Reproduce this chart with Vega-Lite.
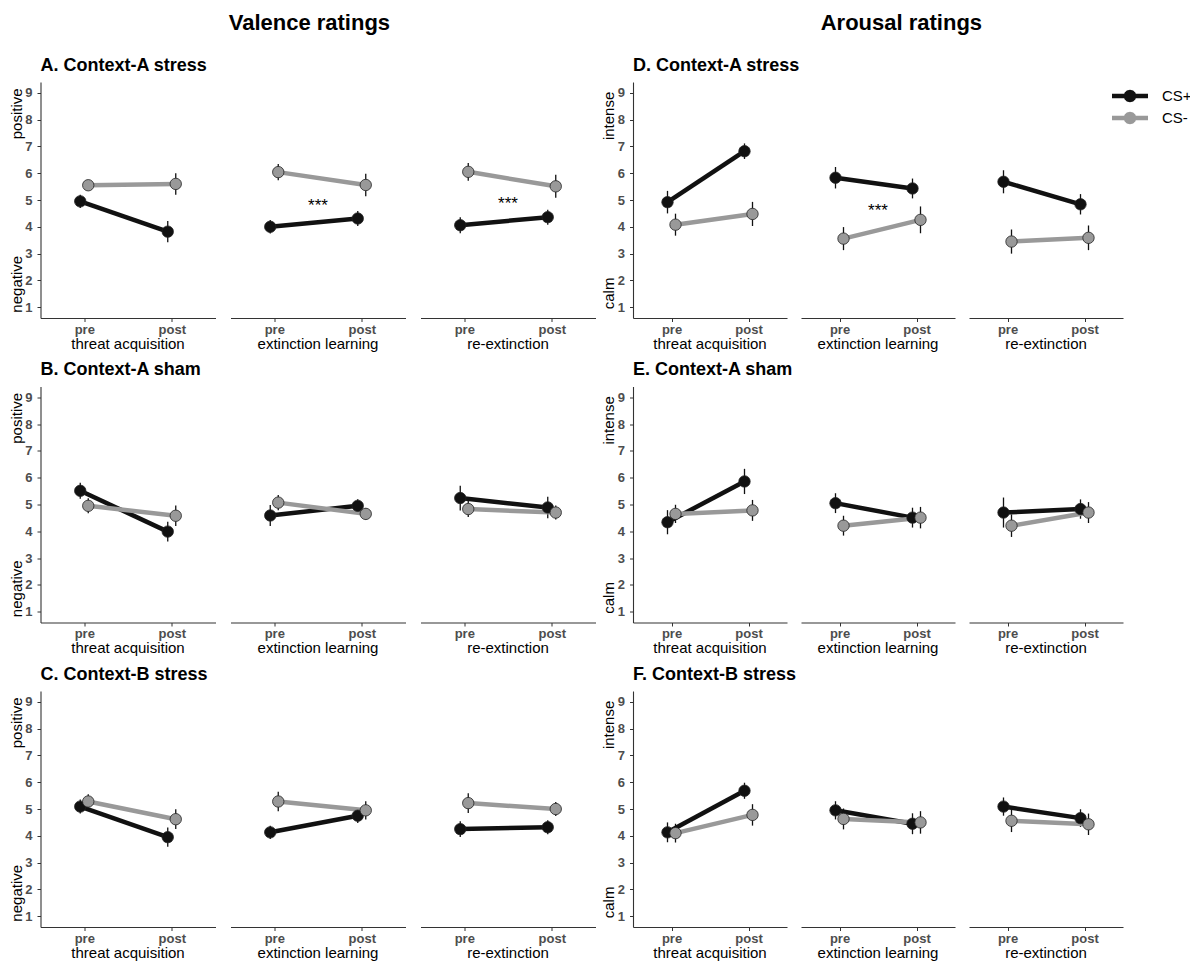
{
  "$schema": "https://vega.github.io/schema/vega-lite/v6.json",
  "padding": {"left": 8.5, "top": 12, "right": 0, "bottom": 0},
  "config": {
    "font": "Liberation Sans",
    "view": {"stroke": null},
    "axis": {
      "grid": false, "domainColor": "#333333", "domainWidth": 1.1,
      "tickColor": "#333333", "tickSize": 3.5, "tickWidth": 1,
      "labelFont": "Liberation Sans", "labelFontWeight": "bold", "labelColor": "#4d4d4d", "labelFontSize": 13,
      "titleFont": "Liberation Sans", "titleFontWeight": "normal", "titleColor": "#000000", "titleFontSize": 15
    },
    "axisX": {"labelAngle": 0, "labelPadding": 1.5},
    "axisY": {"labelPadding": 5, "titlePadding": 0.5},
    "header": {"labelFont": "Liberation Sans", "labelFontSize": 15, "labelColor": "#000000", "labelOrient": "bottom", "labelPadding": 0.5},
    "legend": {
      "orient": "none", "legendX": 1081, "legendY": 5.5, "title": null,
      "symbolType": "M-3,0L3,0M0.667,0L0.578,0.334L0.334,0.578L0,0.667L-0.334,0.578L-0.578,0.334L-0.667,0L-0.578,-0.334L-0.334,-0.578L0,-0.667L0.334,-0.578L0.578,-0.334Z",
      "symbolSize": 144, "symbolStrokeWidth": 4.5,
      "labelFont": "Liberation Sans", "labelFontSize": 15, "labelColor": "#000000", "labelOffset": 23.5, "rowPadding": -16
    }
  },
  "datasets": {
    "ratings": [
      {"p": "A", "ph": "threat acquisition", "t": "pre", "cs": "CS+", "m": 4.95, "lo": 4.70, "hi": 5.20},
      {"p": "A", "ph": "threat acquisition", "t": "pre", "cs": "CS-", "m": 5.55, "lo": 5.35, "hi": 5.75},
      {"p": "A", "ph": "threat acquisition", "t": "post", "cs": "CS+", "m": 3.82, "lo": 3.42, "hi": 4.22},
      {"p": "A", "ph": "threat acquisition", "t": "post", "cs": "CS-", "m": 5.60, "lo": 5.20, "hi": 6.00},
      {"p": "A", "ph": "extinction learning", "t": "pre", "cs": "CS+", "m": 4.00, "lo": 3.75, "hi": 4.25},
      {"p": "A", "ph": "extinction learning", "t": "pre", "cs": "CS-", "m": 6.04, "lo": 5.74, "hi": 6.34},
      {"p": "A", "ph": "extinction learning", "t": "post", "cs": "CS+", "m": 4.31, "lo": 4.03, "hi": 4.59},
      {"p": "A", "ph": "extinction learning", "t": "post", "cs": "CS-", "m": 5.56, "lo": 5.14, "hi": 5.98},
      {"p": "A", "ph": "re-extinction", "t": "pre", "cs": "CS+", "m": 4.06, "lo": 3.76, "hi": 4.36},
      {"p": "A", "ph": "re-extinction", "t": "pre", "cs": "CS-", "m": 6.05, "lo": 5.72, "hi": 6.38},
      {"p": "A", "ph": "re-extinction", "t": "post", "cs": "CS+", "m": 4.36, "lo": 4.08, "hi": 4.64},
      {"p": "A", "ph": "re-extinction", "t": "post", "cs": "CS-", "m": 5.51, "lo": 5.08, "hi": 5.94},
      {"p": "A", "ph": "extinction learning", "t": "mid", "star": "***", "sy": 4.88},
      {"p": "A", "ph": "re-extinction", "t": "mid", "star": "***", "sy": 4.95},

      {"p": "B", "ph": "threat acquisition", "t": "pre", "cs": "CS+", "m": 5.51, "lo": 5.21, "hi": 5.81},
      {"p": "B", "ph": "threat acquisition", "t": "pre", "cs": "CS-", "m": 4.95, "lo": 4.67, "hi": 5.23},
      {"p": "B", "ph": "threat acquisition", "t": "post", "cs": "CS+", "m": 3.99, "lo": 3.62, "hi": 4.36},
      {"p": "B", "ph": "threat acquisition", "t": "post", "cs": "CS-", "m": 4.58, "lo": 4.20, "hi": 4.96},
      {"p": "B", "ph": "extinction learning", "t": "pre", "cs": "CS+", "m": 4.59, "lo": 4.20, "hi": 4.98},
      {"p": "B", "ph": "extinction learning", "t": "pre", "cs": "CS-", "m": 5.07, "lo": 4.79, "hi": 5.35},
      {"p": "B", "ph": "extinction learning", "t": "post", "cs": "CS+", "m": 4.95, "lo": 4.70, "hi": 5.20},
      {"p": "B", "ph": "extinction learning", "t": "post", "cs": "CS-", "m": 4.65, "lo": 4.43, "hi": 4.87},
      {"p": "B", "ph": "re-extinction", "t": "pre", "cs": "CS+", "m": 5.24, "lo": 4.78, "hi": 5.70},
      {"p": "B", "ph": "re-extinction", "t": "pre", "cs": "CS-", "m": 4.83, "lo": 4.53, "hi": 5.13},
      {"p": "B", "ph": "re-extinction", "t": "post", "cs": "CS+", "m": 4.89, "lo": 4.49, "hi": 5.29},
      {"p": "B", "ph": "re-extinction", "t": "post", "cs": "CS-", "m": 4.70, "lo": 4.44, "hi": 4.96},

      {"p": "C", "ph": "threat acquisition", "t": "pre", "cs": "CS+", "m": 5.09, "lo": 4.83, "hi": 5.35},
      {"p": "C", "ph": "threat acquisition", "t": "pre", "cs": "CS-", "m": 5.28, "lo": 5.01, "hi": 5.55},
      {"p": "C", "ph": "threat acquisition", "t": "post", "cs": "CS+", "m": 3.95, "lo": 3.59, "hi": 4.31},
      {"p": "C", "ph": "threat acquisition", "t": "post", "cs": "CS-", "m": 4.62, "lo": 4.25, "hi": 4.99},
      {"p": "C", "ph": "extinction learning", "t": "pre", "cs": "CS+", "m": 4.13, "lo": 3.88, "hi": 4.38},
      {"p": "C", "ph": "extinction learning", "t": "pre", "cs": "CS-", "m": 5.28, "lo": 4.92, "hi": 5.64},
      {"p": "C", "ph": "extinction learning", "t": "post", "cs": "CS+", "m": 4.75, "lo": 4.48, "hi": 5.02},
      {"p": "C", "ph": "extinction learning", "t": "post", "cs": "CS-", "m": 4.95, "lo": 4.61, "hi": 5.29},
      {"p": "C", "ph": "re-extinction", "t": "pre", "cs": "CS+", "m": 4.25, "lo": 3.96, "hi": 4.54},
      {"p": "C", "ph": "re-extinction", "t": "pre", "cs": "CS-", "m": 5.22, "lo": 4.85, "hi": 5.59},
      {"p": "C", "ph": "re-extinction", "t": "post", "cs": "CS+", "m": 4.32, "lo": 4.06, "hi": 4.58},
      {"p": "C", "ph": "re-extinction", "t": "post", "cs": "CS-", "m": 5.00, "lo": 4.74, "hi": 5.26},

      {"p": "D", "ph": "threat acquisition", "t": "pre", "cs": "CS+", "m": 4.92, "lo": 4.50, "hi": 5.34},
      {"p": "D", "ph": "threat acquisition", "t": "pre", "cs": "CS-", "m": 4.08, "lo": 3.67, "hi": 4.49},
      {"p": "D", "ph": "threat acquisition", "t": "post", "cs": "CS+", "m": 6.82, "lo": 6.53, "hi": 7.11},
      {"p": "D", "ph": "threat acquisition", "t": "post", "cs": "CS-", "m": 4.48, "lo": 4.03, "hi": 4.93},
      {"p": "D", "ph": "extinction learning", "t": "pre", "cs": "CS+", "m": 5.83, "lo": 5.43, "hi": 6.23},
      {"p": "D", "ph": "extinction learning", "t": "pre", "cs": "CS-", "m": 3.56, "lo": 3.13, "hi": 3.99},
      {"p": "D", "ph": "extinction learning", "t": "post", "cs": "CS+", "m": 5.43, "lo": 5.06, "hi": 5.80},
      {"p": "D", "ph": "extinction learning", "t": "post", "cs": "CS-", "m": 4.26, "lo": 3.76, "hi": 4.76},
      {"p": "D", "ph": "re-extinction", "t": "pre", "cs": "CS+", "m": 5.68, "lo": 5.25, "hi": 6.11},
      {"p": "D", "ph": "re-extinction", "t": "pre", "cs": "CS-", "m": 3.45, "lo": 3.00, "hi": 3.90},
      {"p": "D", "ph": "re-extinction", "t": "post", "cs": "CS+", "m": 4.84, "lo": 4.46, "hi": 5.22},
      {"p": "D", "ph": "re-extinction", "t": "post", "cs": "CS-", "m": 3.59, "lo": 3.13, "hi": 4.05},
      {"p": "D", "ph": "extinction learning", "t": "mid", "star": "***", "sy": 4.71},

      {"p": "E", "ph": "threat acquisition", "t": "pre", "cs": "CS+", "m": 4.34, "lo": 3.89, "hi": 4.79},
      {"p": "E", "ph": "threat acquisition", "t": "pre", "cs": "CS-", "m": 4.65, "lo": 4.31, "hi": 4.99},
      {"p": "E", "ph": "threat acquisition", "t": "post", "cs": "CS+", "m": 5.86, "lo": 5.39, "hi": 6.33},
      {"p": "E", "ph": "threat acquisition", "t": "post", "cs": "CS-", "m": 4.78, "lo": 4.39, "hi": 5.17},
      {"p": "E", "ph": "extinction learning", "t": "pre", "cs": "CS+", "m": 5.05, "lo": 4.68, "hi": 5.42},
      {"p": "E", "ph": "extinction learning", "t": "pre", "cs": "CS-", "m": 4.21, "lo": 3.84, "hi": 4.58},
      {"p": "E", "ph": "extinction learning", "t": "post", "cs": "CS+", "m": 4.51, "lo": 4.14, "hi": 4.88},
      {"p": "E", "ph": "extinction learning", "t": "post", "cs": "CS-", "m": 4.51, "lo": 4.11, "hi": 4.91},
      {"p": "E", "ph": "re-extinction", "t": "pre", "cs": "CS+", "m": 4.70, "lo": 4.14, "hi": 5.26},
      {"p": "E", "ph": "re-extinction", "t": "pre", "cs": "CS-", "m": 4.21, "lo": 3.79, "hi": 4.63},
      {"p": "E", "ph": "re-extinction", "t": "post", "cs": "CS+", "m": 4.83, "lo": 4.47, "hi": 5.19},
      {"p": "E", "ph": "re-extinction", "t": "post", "cs": "CS-", "m": 4.70, "lo": 4.31, "hi": 5.09},

      {"p": "F", "ph": "threat acquisition", "t": "pre", "cs": "CS+", "m": 4.13, "lo": 3.76, "hi": 4.50},
      {"p": "F", "ph": "threat acquisition", "t": "pre", "cs": "CS-", "m": 4.10, "lo": 3.75, "hi": 4.45},
      {"p": "F", "ph": "threat acquisition", "t": "post", "cs": "CS+", "m": 5.68, "lo": 5.38, "hi": 5.98},
      {"p": "F", "ph": "threat acquisition", "t": "post", "cs": "CS-", "m": 4.78, "lo": 4.38, "hi": 5.18},
      {"p": "F", "ph": "extinction learning", "t": "pre", "cs": "CS+", "m": 4.95, "lo": 4.61, "hi": 5.29},
      {"p": "F", "ph": "extinction learning", "t": "pre", "cs": "CS-", "m": 4.63, "lo": 4.24, "hi": 5.02},
      {"p": "F", "ph": "extinction learning", "t": "post", "cs": "CS+", "m": 4.45, "lo": 4.06, "hi": 4.84},
      {"p": "F", "ph": "extinction learning", "t": "post", "cs": "CS-", "m": 4.50, "lo": 4.08, "hi": 4.92},
      {"p": "F", "ph": "re-extinction", "t": "pre", "cs": "CS+", "m": 5.09, "lo": 4.75, "hi": 5.43},
      {"p": "F", "ph": "re-extinction", "t": "pre", "cs": "CS-", "m": 4.56, "lo": 4.14, "hi": 4.98},
      {"p": "F", "ph": "re-extinction", "t": "post", "cs": "CS+", "m": 4.66, "lo": 4.33, "hi": 4.99},
      {"p": "F", "ph": "re-extinction", "t": "post", "cs": "CS-", "m": 4.43, "lo": 4.03, "hi": 4.83}
    ]
  },
  "spacing": 5.5,
  "hconcat": [
    {
      "title": {"text": "Valence ratings", "fontSize": 22, "fontWeight": "bold", "anchor": "middle", "color": "#000000", "offset": 21.5, "dx": 7},
      "spacing": 8.5,
      "vconcat": [
        {
          "title": {"text": "A. Context-A stress", "fontSize": 18, "fontWeight": "bold", "anchor": "start", "frame": "group", "color": "#000000", "offset": 7.5},
          "data": {"name": "ratings"},
          "transform": [{"filter": "datum.p === 'A'"}],
          "facet": {"column": {"field": "ph", "type": "nominal", "sort": ["threat acquisition", "extinction learning", "re-extinction"], "header": {"title": null}}},
          "spacing": 15,
          "spec": {
            "width": 175, "height": 236,
            "encoding": {"x": {"field": "t", "type": "nominal", "scale": {"type": "point", "domain": ["pre", "mid", "post"], "padding": 1.2}, "axis": {"values": ["pre", "post"], "title": null}}},
            "layer": [
              {"transform": [{"filter": "isValid(datum.m)"}], "mark": {"type": "rule", "strokeWidth": 1.3, "color": "#111111"},
               "encoding": {"xOffset": {"field": "cs", "type": "nominal", "scale": {"type": "point", "domain": ["CS+", "CS-"], "range": [-4, 4], "padding": 0}},
                 "y": {"field": "lo", "type": "quantitative", "scale": {"domain": [0.6, 9.4], "nice": false, "zero": false}, "axis": {"title": "negative\u00a0\u00a0\u00a0\u00a0\u00a0\u00a0\u00a0\u00a0\u00a0\u00a0\u00a0\u00a0\u00a0\u00a0\u00a0\u00a0\u00a0\u00a0\u00a0\u00a0\u00a0\u00a0\u00a0\u00a0\u00a0\u00a0\u00a0\u00a0positive", "values": [1, 2, 3, 4, 5, 6, 7, 8, 9]}},
                 "y2": {"field": "hi"}}},
              {"transform": [{"filter": "isValid(datum.m)"}], "mark": {"type": "line", "strokeWidth": 4.5},
               "encoding": {"xOffset": {"field": "cs", "type": "nominal", "scale": {"type": "point", "domain": ["CS+", "CS-"], "range": [-4, 4], "padding": 0}},
                 "y": {"field": "m", "type": "quantitative", "scale": {"domain": [0.6, 9.4], "nice": false, "zero": false}, "axis": {"title": "negative\u00a0\u00a0\u00a0\u00a0\u00a0\u00a0\u00a0\u00a0\u00a0\u00a0\u00a0\u00a0\u00a0\u00a0\u00a0\u00a0\u00a0\u00a0\u00a0\u00a0\u00a0\u00a0\u00a0\u00a0\u00a0\u00a0\u00a0\u00a0positive", "values": [1, 2, 3, 4, 5, 6, 7, 8, 9]}},
                 "stroke": {"field": "cs", "type": "nominal", "scale": {"domain": ["CS+", "CS-"], "range": ["#111111", "#999999"]}, "legend": {"encode": {"symbols": {"update": {"fill": {"scale": "stroke", "field": "value"}}}}}}}},
              {"transform": [{"filter": "isValid(datum.m)"}], "mark": {"type": "point", "filled": true, "size": 130, "opacity": 1, "stroke": "#222222", "strokeWidth": 0.8},
               "encoding": {"xOffset": {"field": "cs", "type": "nominal", "scale": {"type": "point", "domain": ["CS+", "CS-"], "range": [-4, 4], "padding": 0}},
                 "y": {"field": "m", "type": "quantitative", "scale": {"domain": [0.6, 9.4], "nice": false, "zero": false}, "axis": {"title": "negative\u00a0\u00a0\u00a0\u00a0\u00a0\u00a0\u00a0\u00a0\u00a0\u00a0\u00a0\u00a0\u00a0\u00a0\u00a0\u00a0\u00a0\u00a0\u00a0\u00a0\u00a0\u00a0\u00a0\u00a0\u00a0\u00a0\u00a0\u00a0positive", "values": [1, 2, 3, 4, 5, 6, 7, 8, 9]}},
                 "fill": {"field": "cs", "type": "nominal", "scale": {"domain": ["CS+", "CS-"], "range": ["#111111", "#999999"]}, "legend": null}}},
              {"transform": [{"filter": "isValid(datum.sy)"}], "mark": {"type": "text", "fontSize": 17, "baseline": "middle", "dy": 3, "color": "#000000"},
               "encoding": {"y": {"field": "sy", "type": "quantitative", "scale": {"domain": [0.6, 9.4], "nice": false, "zero": false}, "axis": {"title": "negative\u00a0\u00a0\u00a0\u00a0\u00a0\u00a0\u00a0\u00a0\u00a0\u00a0\u00a0\u00a0\u00a0\u00a0\u00a0\u00a0\u00a0\u00a0\u00a0\u00a0\u00a0\u00a0\u00a0\u00a0\u00a0\u00a0\u00a0\u00a0positive", "values": [1, 2, 3, 4, 5, 6, 7, 8, 9]}},
                 "text": {"field": "star"}}}
            ]
          }
        },
        {
          "title": {"text": "B. Context-A sham", "fontSize": 18, "fontWeight": "bold", "anchor": "start", "frame": "group", "color": "#000000", "offset": 7.5},
          "data": {"name": "ratings"},
          "transform": [{"filter": "datum.p === 'B'"}],
          "facet": {"column": {"field": "ph", "type": "nominal", "sort": ["threat acquisition", "extinction learning", "re-extinction"], "header": {"title": null}}},
          "spacing": 15,
          "spec": {
            "width": 175, "height": 236,
            "encoding": {"x": {"field": "t", "type": "nominal", "scale": {"type": "point", "domain": ["pre", "mid", "post"], "padding": 1.2}, "axis": {"values": ["pre", "post"], "title": null}}},
            "layer": [
              {"transform": [{"filter": "isValid(datum.m)"}], "mark": {"type": "rule", "strokeWidth": 1.3, "color": "#111111"},
               "encoding": {"xOffset": {"field": "cs", "type": "nominal", "scale": {"type": "point", "domain": ["CS+", "CS-"], "range": [-4, 4], "padding": 0}},
                 "y": {"field": "lo", "type": "quantitative", "scale": {"domain": [0.6, 9.4], "nice": false, "zero": false}, "axis": {"title": "negative\u00a0\u00a0\u00a0\u00a0\u00a0\u00a0\u00a0\u00a0\u00a0\u00a0\u00a0\u00a0\u00a0\u00a0\u00a0\u00a0\u00a0\u00a0\u00a0\u00a0\u00a0\u00a0\u00a0\u00a0\u00a0\u00a0\u00a0\u00a0positive", "values": [1, 2, 3, 4, 5, 6, 7, 8, 9]}},
                 "y2": {"field": "hi"}}},
              {"transform": [{"filter": "isValid(datum.m)"}], "mark": {"type": "line", "strokeWidth": 4.5},
               "encoding": {"xOffset": {"field": "cs", "type": "nominal", "scale": {"type": "point", "domain": ["CS+", "CS-"], "range": [-4, 4], "padding": 0}},
                 "y": {"field": "m", "type": "quantitative", "scale": {"domain": [0.6, 9.4], "nice": false, "zero": false}, "axis": {"title": "negative\u00a0\u00a0\u00a0\u00a0\u00a0\u00a0\u00a0\u00a0\u00a0\u00a0\u00a0\u00a0\u00a0\u00a0\u00a0\u00a0\u00a0\u00a0\u00a0\u00a0\u00a0\u00a0\u00a0\u00a0\u00a0\u00a0\u00a0\u00a0positive", "values": [1, 2, 3, 4, 5, 6, 7, 8, 9]}},
                 "stroke": {"field": "cs", "type": "nominal", "scale": {"domain": ["CS+", "CS-"], "range": ["#111111", "#999999"]}, "legend": {"encode": {"symbols": {"update": {"fill": {"scale": "stroke", "field": "value"}}}}}}}},
              {"transform": [{"filter": "isValid(datum.m)"}], "mark": {"type": "point", "filled": true, "size": 130, "opacity": 1, "stroke": "#222222", "strokeWidth": 0.8},
               "encoding": {"xOffset": {"field": "cs", "type": "nominal", "scale": {"type": "point", "domain": ["CS+", "CS-"], "range": [-4, 4], "padding": 0}},
                 "y": {"field": "m", "type": "quantitative", "scale": {"domain": [0.6, 9.4], "nice": false, "zero": false}, "axis": {"title": "negative\u00a0\u00a0\u00a0\u00a0\u00a0\u00a0\u00a0\u00a0\u00a0\u00a0\u00a0\u00a0\u00a0\u00a0\u00a0\u00a0\u00a0\u00a0\u00a0\u00a0\u00a0\u00a0\u00a0\u00a0\u00a0\u00a0\u00a0\u00a0positive", "values": [1, 2, 3, 4, 5, 6, 7, 8, 9]}},
                 "fill": {"field": "cs", "type": "nominal", "scale": {"domain": ["CS+", "CS-"], "range": ["#111111", "#999999"]}, "legend": null}}}
            ]
          }
        },
        {
          "title": {"text": "C. Context-B stress", "fontSize": 18, "fontWeight": "bold", "anchor": "start", "frame": "group", "color": "#000000", "offset": 7.5},
          "data": {"name": "ratings"},
          "transform": [{"filter": "datum.p === 'C'"}],
          "facet": {"column": {"field": "ph", "type": "nominal", "sort": ["threat acquisition", "extinction learning", "re-extinction"], "header": {"title": null}}},
          "spacing": 15,
          "spec": {
            "width": 175, "height": 236,
            "encoding": {"x": {"field": "t", "type": "nominal", "scale": {"type": "point", "domain": ["pre", "mid", "post"], "padding": 1.2}, "axis": {"values": ["pre", "post"], "title": null}}},
            "layer": [
              {"transform": [{"filter": "isValid(datum.m)"}], "mark": {"type": "rule", "strokeWidth": 1.3, "color": "#111111"},
               "encoding": {"xOffset": {"field": "cs", "type": "nominal", "scale": {"type": "point", "domain": ["CS+", "CS-"], "range": [-4, 4], "padding": 0}},
                 "y": {"field": "lo", "type": "quantitative", "scale": {"domain": [0.6, 9.4], "nice": false, "zero": false}, "axis": {"title": "negative\u00a0\u00a0\u00a0\u00a0\u00a0\u00a0\u00a0\u00a0\u00a0\u00a0\u00a0\u00a0\u00a0\u00a0\u00a0\u00a0\u00a0\u00a0\u00a0\u00a0\u00a0\u00a0\u00a0\u00a0\u00a0\u00a0\u00a0\u00a0positive", "values": [1, 2, 3, 4, 5, 6, 7, 8, 9]}},
                 "y2": {"field": "hi"}}},
              {"transform": [{"filter": "isValid(datum.m)"}], "mark": {"type": "line", "strokeWidth": 4.5},
               "encoding": {"xOffset": {"field": "cs", "type": "nominal", "scale": {"type": "point", "domain": ["CS+", "CS-"], "range": [-4, 4], "padding": 0}},
                 "y": {"field": "m", "type": "quantitative", "scale": {"domain": [0.6, 9.4], "nice": false, "zero": false}, "axis": {"title": "negative\u00a0\u00a0\u00a0\u00a0\u00a0\u00a0\u00a0\u00a0\u00a0\u00a0\u00a0\u00a0\u00a0\u00a0\u00a0\u00a0\u00a0\u00a0\u00a0\u00a0\u00a0\u00a0\u00a0\u00a0\u00a0\u00a0\u00a0\u00a0positive", "values": [1, 2, 3, 4, 5, 6, 7, 8, 9]}},
                 "stroke": {"field": "cs", "type": "nominal", "scale": {"domain": ["CS+", "CS-"], "range": ["#111111", "#999999"]}, "legend": {"encode": {"symbols": {"update": {"fill": {"scale": "stroke", "field": "value"}}}}}}}},
              {"transform": [{"filter": "isValid(datum.m)"}], "mark": {"type": "point", "filled": true, "size": 130, "opacity": 1, "stroke": "#222222", "strokeWidth": 0.8},
               "encoding": {"xOffset": {"field": "cs", "type": "nominal", "scale": {"type": "point", "domain": ["CS+", "CS-"], "range": [-4, 4], "padding": 0}},
                 "y": {"field": "m", "type": "quantitative", "scale": {"domain": [0.6, 9.4], "nice": false, "zero": false}, "axis": {"title": "negative\u00a0\u00a0\u00a0\u00a0\u00a0\u00a0\u00a0\u00a0\u00a0\u00a0\u00a0\u00a0\u00a0\u00a0\u00a0\u00a0\u00a0\u00a0\u00a0\u00a0\u00a0\u00a0\u00a0\u00a0\u00a0\u00a0\u00a0\u00a0positive", "values": [1, 2, 3, 4, 5, 6, 7, 8, 9]}},
                 "fill": {"field": "cs", "type": "nominal", "scale": {"domain": ["CS+", "CS-"], "range": ["#111111", "#999999"]}, "legend": null}}}
            ]
          }
        }
      ]
    },
    {
      "title": {"text": "Arousal ratings", "fontSize": 22, "fontWeight": "bold", "anchor": "middle", "color": "#000000", "offset": 21.5, "dx": 39},
      "spacing": 8.5,
      "vconcat": [
        {
          "title": {"text": "D. Context-A stress", "fontSize": 18, "fontWeight": "bold", "anchor": "start", "frame": "group", "color": "#000000", "offset": 7.5},
          "data": {"name": "ratings"},
          "transform": [{"filter": "datum.p === 'D'"}],
          "facet": {"column": {"field": "ph", "type": "nominal", "sort": ["threat acquisition", "extinction learning", "re-extinction"], "header": {"title": null}}},
          "spacing": 14,
          "spec": {
            "width": 154, "height": 236,
            "encoding": {"x": {"field": "t", "type": "nominal", "scale": {"type": "point", "domain": ["pre", "mid", "post"], "padding": 1.2}, "axis": {"values": ["pre", "post"], "title": null}}},
            "layer": [
              {"transform": [{"filter": "isValid(datum.m)"}], "mark": {"type": "rule", "strokeWidth": 1.3, "color": "#111111"},
               "encoding": {"xOffset": {"field": "cs", "type": "nominal", "scale": {"type": "point", "domain": ["CS+", "CS-"], "range": [-3.6, 3.6], "padding": 0}},
                 "y": {"field": "lo", "type": "quantitative", "scale": {"domain": [0.6, 9.4], "nice": false, "zero": false}, "axis": {"title": "calm\u00a0\u00a0\u00a0\u00a0\u00a0\u00a0\u00a0\u00a0\u00a0\u00a0\u00a0\u00a0\u00a0\u00a0\u00a0\u00a0\u00a0\u00a0\u00a0\u00a0\u00a0\u00a0\u00a0\u00a0\u00a0\u00a0\u00a0\u00a0\u00a0\u00a0\u00a0\u00a0\u00a0intense", "values": [1, 2, 3, 4, 5, 6, 7, 8, 9]}},
                 "y2": {"field": "hi"}}},
              {"transform": [{"filter": "isValid(datum.m)"}], "mark": {"type": "line", "strokeWidth": 4.5},
               "encoding": {"xOffset": {"field": "cs", "type": "nominal", "scale": {"type": "point", "domain": ["CS+", "CS-"], "range": [-3.6, 3.6], "padding": 0}},
                 "y": {"field": "m", "type": "quantitative", "scale": {"domain": [0.6, 9.4], "nice": false, "zero": false}, "axis": {"title": "calm\u00a0\u00a0\u00a0\u00a0\u00a0\u00a0\u00a0\u00a0\u00a0\u00a0\u00a0\u00a0\u00a0\u00a0\u00a0\u00a0\u00a0\u00a0\u00a0\u00a0\u00a0\u00a0\u00a0\u00a0\u00a0\u00a0\u00a0\u00a0\u00a0\u00a0\u00a0\u00a0\u00a0intense", "values": [1, 2, 3, 4, 5, 6, 7, 8, 9]}},
                 "stroke": {"field": "cs", "type": "nominal", "scale": {"domain": ["CS+", "CS-"], "range": ["#111111", "#999999"]}, "legend": {"encode": {"symbols": {"update": {"fill": {"scale": "stroke", "field": "value"}}}}}}}},
              {"transform": [{"filter": "isValid(datum.m)"}], "mark": {"type": "point", "filled": true, "size": 130, "opacity": 1, "stroke": "#222222", "strokeWidth": 0.8},
               "encoding": {"xOffset": {"field": "cs", "type": "nominal", "scale": {"type": "point", "domain": ["CS+", "CS-"], "range": [-3.6, 3.6], "padding": 0}},
                 "y": {"field": "m", "type": "quantitative", "scale": {"domain": [0.6, 9.4], "nice": false, "zero": false}, "axis": {"title": "calm\u00a0\u00a0\u00a0\u00a0\u00a0\u00a0\u00a0\u00a0\u00a0\u00a0\u00a0\u00a0\u00a0\u00a0\u00a0\u00a0\u00a0\u00a0\u00a0\u00a0\u00a0\u00a0\u00a0\u00a0\u00a0\u00a0\u00a0\u00a0\u00a0\u00a0\u00a0\u00a0\u00a0intense", "values": [1, 2, 3, 4, 5, 6, 7, 8, 9]}},
                 "fill": {"field": "cs", "type": "nominal", "scale": {"domain": ["CS+", "CS-"], "range": ["#111111", "#999999"]}, "legend": null}}},
              {"transform": [{"filter": "isValid(datum.sy)"}], "mark": {"type": "text", "fontSize": 17, "baseline": "middle", "dy": 3, "color": "#000000"},
               "encoding": {"y": {"field": "sy", "type": "quantitative", "scale": {"domain": [0.6, 9.4], "nice": false, "zero": false}, "axis": {"title": "calm\u00a0\u00a0\u00a0\u00a0\u00a0\u00a0\u00a0\u00a0\u00a0\u00a0\u00a0\u00a0\u00a0\u00a0\u00a0\u00a0\u00a0\u00a0\u00a0\u00a0\u00a0\u00a0\u00a0\u00a0\u00a0\u00a0\u00a0\u00a0\u00a0\u00a0\u00a0\u00a0\u00a0intense", "values": [1, 2, 3, 4, 5, 6, 7, 8, 9]}},
                 "text": {"field": "star"}}}
            ]
          }
        },
        {
          "title": {"text": "E. Context-A sham", "fontSize": 18, "fontWeight": "bold", "anchor": "start", "frame": "group", "color": "#000000", "offset": 7.5},
          "data": {"name": "ratings"},
          "transform": [{"filter": "datum.p === 'E'"}],
          "facet": {"column": {"field": "ph", "type": "nominal", "sort": ["threat acquisition", "extinction learning", "re-extinction"], "header": {"title": null}}},
          "spacing": 14,
          "spec": {
            "width": 154, "height": 236,
            "encoding": {"x": {"field": "t", "type": "nominal", "scale": {"type": "point", "domain": ["pre", "mid", "post"], "padding": 1.2}, "axis": {"values": ["pre", "post"], "title": null}}},
            "layer": [
              {"transform": [{"filter": "isValid(datum.m)"}], "mark": {"type": "rule", "strokeWidth": 1.3, "color": "#111111"},
               "encoding": {"xOffset": {"field": "cs", "type": "nominal", "scale": {"type": "point", "domain": ["CS+", "CS-"], "range": [-3.6, 3.6], "padding": 0}},
                 "y": {"field": "lo", "type": "quantitative", "scale": {"domain": [0.6, 9.4], "nice": false, "zero": false}, "axis": {"title": "calm\u00a0\u00a0\u00a0\u00a0\u00a0\u00a0\u00a0\u00a0\u00a0\u00a0\u00a0\u00a0\u00a0\u00a0\u00a0\u00a0\u00a0\u00a0\u00a0\u00a0\u00a0\u00a0\u00a0\u00a0\u00a0\u00a0\u00a0\u00a0\u00a0\u00a0\u00a0\u00a0\u00a0intense", "values": [1, 2, 3, 4, 5, 6, 7, 8, 9]}},
                 "y2": {"field": "hi"}}},
              {"transform": [{"filter": "isValid(datum.m)"}], "mark": {"type": "line", "strokeWidth": 4.5},
               "encoding": {"xOffset": {"field": "cs", "type": "nominal", "scale": {"type": "point", "domain": ["CS+", "CS-"], "range": [-3.6, 3.6], "padding": 0}},
                 "y": {"field": "m", "type": "quantitative", "scale": {"domain": [0.6, 9.4], "nice": false, "zero": false}, "axis": {"title": "calm\u00a0\u00a0\u00a0\u00a0\u00a0\u00a0\u00a0\u00a0\u00a0\u00a0\u00a0\u00a0\u00a0\u00a0\u00a0\u00a0\u00a0\u00a0\u00a0\u00a0\u00a0\u00a0\u00a0\u00a0\u00a0\u00a0\u00a0\u00a0\u00a0\u00a0\u00a0\u00a0\u00a0intense", "values": [1, 2, 3, 4, 5, 6, 7, 8, 9]}},
                 "stroke": {"field": "cs", "type": "nominal", "scale": {"domain": ["CS+", "CS-"], "range": ["#111111", "#999999"]}, "legend": {"encode": {"symbols": {"update": {"fill": {"scale": "stroke", "field": "value"}}}}}}}},
              {"transform": [{"filter": "isValid(datum.m)"}], "mark": {"type": "point", "filled": true, "size": 130, "opacity": 1, "stroke": "#222222", "strokeWidth": 0.8},
               "encoding": {"xOffset": {"field": "cs", "type": "nominal", "scale": {"type": "point", "domain": ["CS+", "CS-"], "range": [-3.6, 3.6], "padding": 0}},
                 "y": {"field": "m", "type": "quantitative", "scale": {"domain": [0.6, 9.4], "nice": false, "zero": false}, "axis": {"title": "calm\u00a0\u00a0\u00a0\u00a0\u00a0\u00a0\u00a0\u00a0\u00a0\u00a0\u00a0\u00a0\u00a0\u00a0\u00a0\u00a0\u00a0\u00a0\u00a0\u00a0\u00a0\u00a0\u00a0\u00a0\u00a0\u00a0\u00a0\u00a0\u00a0\u00a0\u00a0\u00a0\u00a0intense", "values": [1, 2, 3, 4, 5, 6, 7, 8, 9]}},
                 "fill": {"field": "cs", "type": "nominal", "scale": {"domain": ["CS+", "CS-"], "range": ["#111111", "#999999"]}, "legend": null}}}
            ]
          }
        },
        {
          "title": {"text": "F. Context-B stress", "fontSize": 18, "fontWeight": "bold", "anchor": "start", "frame": "group", "color": "#000000", "offset": 7.5},
          "data": {"name": "ratings"},
          "transform": [{"filter": "datum.p === 'F'"}],
          "facet": {"column": {"field": "ph", "type": "nominal", "sort": ["threat acquisition", "extinction learning", "re-extinction"], "header": {"title": null}}},
          "spacing": 14,
          "spec": {
            "width": 154, "height": 236,
            "encoding": {"x": {"field": "t", "type": "nominal", "scale": {"type": "point", "domain": ["pre", "mid", "post"], "padding": 1.2}, "axis": {"values": ["pre", "post"], "title": null}}},
            "layer": [
              {"transform": [{"filter": "isValid(datum.m)"}], "mark": {"type": "rule", "strokeWidth": 1.3, "color": "#111111"},
               "encoding": {"xOffset": {"field": "cs", "type": "nominal", "scale": {"type": "point", "domain": ["CS+", "CS-"], "range": [-3.6, 3.6], "padding": 0}},
                 "y": {"field": "lo", "type": "quantitative", "scale": {"domain": [0.6, 9.4], "nice": false, "zero": false}, "axis": {"title": "calm\u00a0\u00a0\u00a0\u00a0\u00a0\u00a0\u00a0\u00a0\u00a0\u00a0\u00a0\u00a0\u00a0\u00a0\u00a0\u00a0\u00a0\u00a0\u00a0\u00a0\u00a0\u00a0\u00a0\u00a0\u00a0\u00a0\u00a0\u00a0\u00a0\u00a0\u00a0\u00a0\u00a0intense", "values": [1, 2, 3, 4, 5, 6, 7, 8, 9]}},
                 "y2": {"field": "hi"}}},
              {"transform": [{"filter": "isValid(datum.m)"}], "mark": {"type": "line", "strokeWidth": 4.5},
               "encoding": {"xOffset": {"field": "cs", "type": "nominal", "scale": {"type": "point", "domain": ["CS+", "CS-"], "range": [-3.6, 3.6], "padding": 0}},
                 "y": {"field": "m", "type": "quantitative", "scale": {"domain": [0.6, 9.4], "nice": false, "zero": false}, "axis": {"title": "calm\u00a0\u00a0\u00a0\u00a0\u00a0\u00a0\u00a0\u00a0\u00a0\u00a0\u00a0\u00a0\u00a0\u00a0\u00a0\u00a0\u00a0\u00a0\u00a0\u00a0\u00a0\u00a0\u00a0\u00a0\u00a0\u00a0\u00a0\u00a0\u00a0\u00a0\u00a0\u00a0\u00a0intense", "values": [1, 2, 3, 4, 5, 6, 7, 8, 9]}},
                 "stroke": {"field": "cs", "type": "nominal", "scale": {"domain": ["CS+", "CS-"], "range": ["#111111", "#999999"]}, "legend": {"encode": {"symbols": {"update": {"fill": {"scale": "stroke", "field": "value"}}}}}}}},
              {"transform": [{"filter": "isValid(datum.m)"}], "mark": {"type": "point", "filled": true, "size": 130, "opacity": 1, "stroke": "#222222", "strokeWidth": 0.8},
               "encoding": {"xOffset": {"field": "cs", "type": "nominal", "scale": {"type": "point", "domain": ["CS+", "CS-"], "range": [-3.6, 3.6], "padding": 0}},
                 "y": {"field": "m", "type": "quantitative", "scale": {"domain": [0.6, 9.4], "nice": false, "zero": false}, "axis": {"title": "calm\u00a0\u00a0\u00a0\u00a0\u00a0\u00a0\u00a0\u00a0\u00a0\u00a0\u00a0\u00a0\u00a0\u00a0\u00a0\u00a0\u00a0\u00a0\u00a0\u00a0\u00a0\u00a0\u00a0\u00a0\u00a0\u00a0\u00a0\u00a0\u00a0\u00a0\u00a0\u00a0\u00a0intense", "values": [1, 2, 3, 4, 5, 6, 7, 8, 9]}},
                 "fill": {"field": "cs", "type": "nominal", "scale": {"domain": ["CS+", "CS-"], "range": ["#111111", "#999999"]}, "legend": null}}}
            ]
          }
        }
      ]
    }
  ]
}
